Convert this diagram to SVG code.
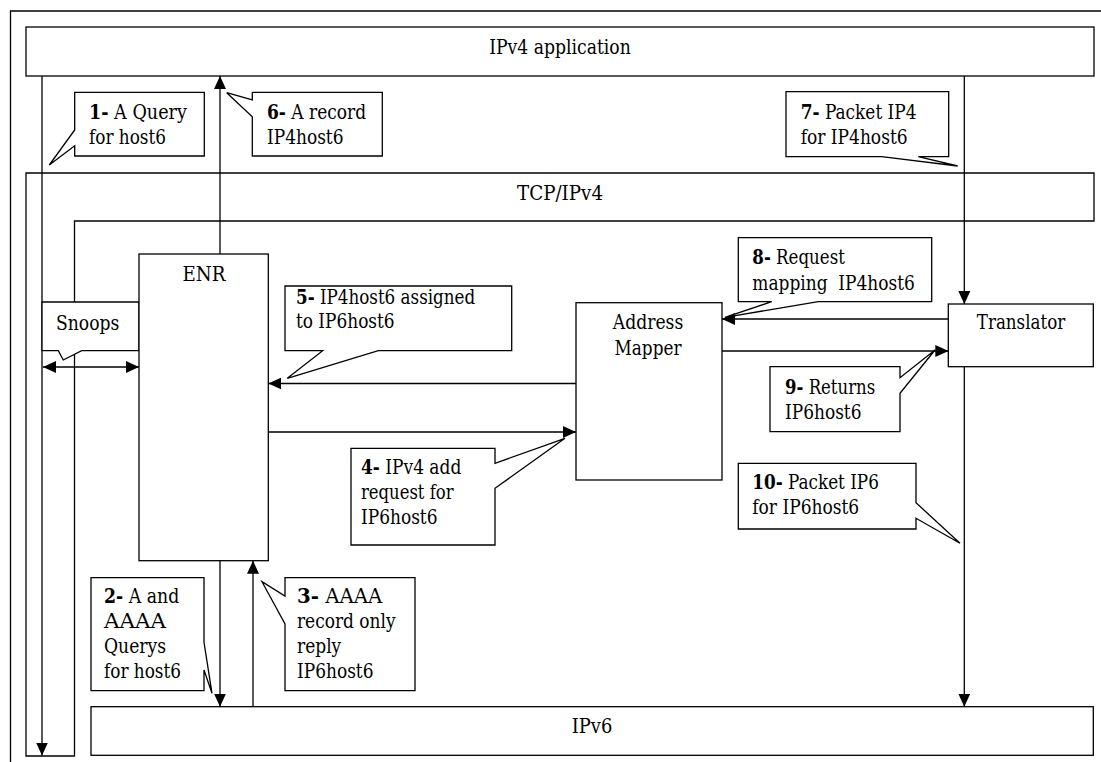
<svg xmlns="http://www.w3.org/2000/svg" width="1101" height="762" viewBox="0 0 1101 762">
  <defs>
    <style>
      .ln { fill: none; stroke: #000; stroke-width: 1.3; }
      .bx { fill: #fff; stroke: #000; stroke-width: 1.3; }
      .arrow { fill: none; stroke: #000; stroke-width: 1.3; marker-end: url(#head); }
      .both { marker-start: url(#head); }
      text { font-family: 'DejaVu Serif', 'Liberation Serif', serif; font-stretch: condensed; font-size: 19.5px; fill: #000; }
      .c { text-anchor: middle; }
      .n { font-weight: bold; }
    </style>
    <marker id="head" viewBox="0 0 13 12" refX="13" refY="6" markerWidth="13" markerHeight="12" markerUnits="userSpaceOnUse" orient="auto-start-reverse">
      <path d="M0,0 L13,6 L0,12 Z" fill="#000"/>
    </marker>
  </defs>
  <rect width="1101" height="762" fill="#fff"/>

  <!-- outer frame (top and left edges only) -->
  <path class="ln" d="M10.5,762 V11 H1101"/>

  <!-- protocol layers -->
  <g id="ipv4-application">
    <rect class="bx" x="26" y="27" width="1068" height="49"/>
    <text class="c" x="560" y="54" textLength="141.5" lengthAdjust="spacingAndGlyphs">IPv4 application</text>
  </g>
  <g id="tcp-ipv4">
    <path class="ln" d="M26,173 H1094 V221 H74.5 V756 H26 Z"/>
    <text class="c" x="560" y="200" textLength="86" lengthAdjust="spacingAndGlyphs">TCP/IPv4</text>
  </g>
  <g id="ipv6">
    <rect class="bx" x="91" y="706.7" width="1002.3" height="48.6"/>
    <text class="c" x="592" y="733" textLength="40.6" lengthAdjust="spacingAndGlyphs">IPv6</text>
  </g>

  <!-- connectors -->
  <g id="connectors">
    <line class="arrow" x1="42" y1="76" x2="42" y2="755.5"/>
    <line class="arrow" x1="220" y1="254" x2="220" y2="76"/>
    <line class="arrow" x1="964.3" y1="76" x2="964.3" y2="304"/>
    <line class="arrow" x1="964.3" y1="366.7" x2="964.3" y2="706.7"/>
    <line class="arrow" x1="948.3" y1="319" x2="722" y2="319"/>
    <line class="arrow" x1="722" y1="351" x2="948.3" y2="351"/>
    <line class="arrow" x1="576" y1="383.5" x2="268.3" y2="383.5"/>
    <line class="arrow" x1="268.3" y1="432" x2="576" y2="432"/>
    <line class="arrow" x1="220" y1="560.7" x2="220" y2="706.7"/>
    <line class="arrow" x1="253" y1="706.7" x2="253" y2="560.7"/>
    <line class="arrow both" x1="43" y1="367" x2="139" y2="367"/>
  </g>

  <!-- nodes -->
  <g id="snoops">
    <path class="bx" d="M42,302 H139 V350.7 H81.7 L63.3,360 L58.3,350.7 H42 Z"/>
    <text x="56" y="330" textLength="63.3" lengthAdjust="spacingAndGlyphs">Snoops</text>
  </g>
  <g id="enr">
    <rect class="bx" x="139" y="254" width="129.3" height="306.7"/>
    <text class="c" x="204" y="281" textLength="43" lengthAdjust="spacingAndGlyphs">ENR</text>
  </g>
  <g id="address-mapper">
    <rect class="bx" x="576" y="302.7" width="146" height="177.3"/>
    <text class="c" x="648" y="329" textLength="70.5" lengthAdjust="spacingAndGlyphs">Address</text>
    <text class="c" x="648" y="355" textLength="66.9" lengthAdjust="spacingAndGlyphs">Mapper</text>
  </g>
  <g id="translator">
    <rect class="bx" x="948.3" y="304" width="145" height="62.7"/>
    <text class="c" x="1021" y="329" textLength="88.4" lengthAdjust="spacingAndGlyphs">Translator</text>
  </g>

  <!-- step callouts -->
  <g id="step1">
    <path class="bx" d="M74.7,92.3 H204.3 V156 H74.7 V145.7 L49.3,165 L74.7,130 Z"/>
    <text x="89" y="119" textLength="97.9" lengthAdjust="spacingAndGlyphs"><tspan class="n">1-</tspan> A Query</text>
    <text x="89" y="144" textLength="77" lengthAdjust="spacingAndGlyphs">for host6</text>
  </g>
  <g id="step2">
    <path class="bx" d="M91,577.7 H204 V642.3 L212,693.3 L204,670 V690.7 H91 Z"/>
    <text x="104" y="603" textLength="75.2" lengthAdjust="spacingAndGlyphs"><tspan class="n">2-</tspan> A and</text>
    <text x="104" y="628" textLength="62.1" lengthAdjust="spacingAndGlyphs">AAAA</text>
    <text x="104" y="653" textLength="62.1" lengthAdjust="spacingAndGlyphs">Querys</text>
    <text x="104" y="678" textLength="77" lengthAdjust="spacingAndGlyphs">for host6</text>
  </g>
  <g id="step3">
    <path class="bx" d="M285,577.7 H415 V690.7 H285 V624 L262,581.7 L285,596 Z"/>
    <text x="297" y="603" textLength="85.4" lengthAdjust="spacingAndGlyphs"><tspan class="n">3-</tspan> AAAA</text>
    <text x="297" y="628" textLength="98.5" lengthAdjust="spacingAndGlyphs">record only</text>
    <text x="297" y="653" textLength="44.2" lengthAdjust="spacingAndGlyphs">reply</text>
    <text x="297" y="678" textLength="76.5" lengthAdjust="spacingAndGlyphs">IP6host6</text>
  </g>
  <g id="step4">
    <path class="bx" d="M351,448.3 H495 V463.3 L565,438.3 L495,488.3 V545 H351 Z"/>
    <text x="361" y="474" textLength="100.3" lengthAdjust="spacingAndGlyphs"><tspan class="n">4-</tspan> IPv4 add</text>
    <text x="361" y="499" textLength="92.5" lengthAdjust="spacingAndGlyphs">request for</text>
    <text x="361" y="524" textLength="76.5" lengthAdjust="spacingAndGlyphs">IP6host6</text>
  </g>
  <g id="step5">
    <path class="bx" d="M285,286 H511.7 V350.7 H378.3 L287.3,378.3 L322.7,350.7 H285 Z"/>
    <text x="296" y="304" textLength="179.2" lengthAdjust="spacingAndGlyphs"><tspan class="n">5-</tspan> IP4host6 assigned</text>
    <text x="296" y="328" textLength="98.6" lengthAdjust="spacingAndGlyphs">to IP6host6</text>
  </g>
  <g id="step6">
    <path class="bx" d="M252.3,92.3 H382.3 V156 H252.3 V116.7 L226.7,92.7 L252.3,100 Z"/>
    <text x="267" y="119" textLength="99.1" lengthAdjust="spacingAndGlyphs"><tspan class="n">6-</tspan> A record</text>
    <text x="267" y="144" textLength="76.5" lengthAdjust="spacingAndGlyphs">IP4host6</text>
  </g>
  <g id="step7">
    <path class="bx" d="M786,91.7 H948.7 V156.7 H918.3 L957.7,166 L881.7,156.7 H786 Z"/>
    <text x="800.7" y="118.5" textLength="115.8" lengthAdjust="spacingAndGlyphs"><tspan class="n">7-</tspan> Packet IP4</text>
    <text x="800.7" y="143.5" textLength="106.9" lengthAdjust="spacingAndGlyphs">for IP4host6</text>
  </g>
  <g id="step8">
    <path class="bx" d="M738.3,237.7 H931.7 V301.7 H818.3 L725,317.3 L771.7,301.7 H738.3 Z"/>
    <text x="752.3" y="264" textLength="92.6" lengthAdjust="spacingAndGlyphs"><tspan class="n">8-</tspan> Request</text>
    <text x="752.3" y="289.5" textLength="162.5" lengthAdjust="spacingAndGlyphs" xml:space="preserve">mapping  IP4host6</text>
  </g>
  <g id="step9">
    <path class="bx" d="M770,366.7 H900 V377.7 L935,350 L900,393.3 V431.7 H770 Z"/>
    <text x="785" y="394" textLength="90.2" lengthAdjust="spacingAndGlyphs"><tspan class="n">9-</tspan> Returns</text>
    <text x="785" y="419" textLength="76.5" lengthAdjust="spacingAndGlyphs">IP6host6</text>
  </g>
  <g id="step10">
    <path class="bx" d="M738.3,463.3 H916 V502.7 L960,543.3 L916,518.3 V529 H738.3 Z"/>
    <text x="752.3" y="489" textLength="126.6" lengthAdjust="spacingAndGlyphs"><tspan class="n">10-</tspan> Packet IP6</text>
    <text x="752.3" y="513.5" textLength="106.9" lengthAdjust="spacingAndGlyphs">for IP6host6</text>
  </g>
</svg>
